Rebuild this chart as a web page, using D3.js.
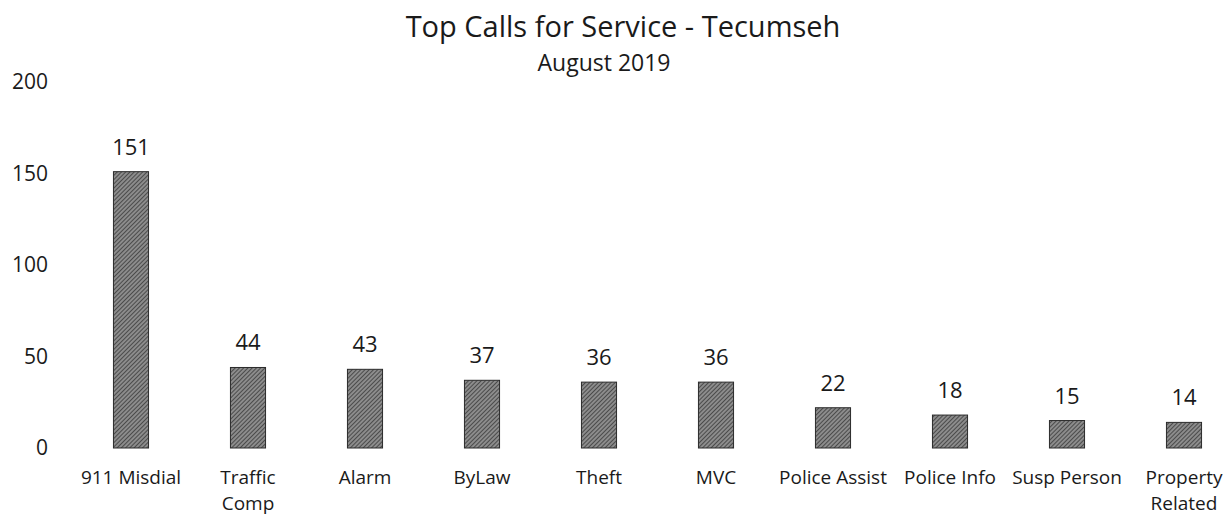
<!DOCTYPE html>
<html><head><meta charset="utf-8">
<script src="https://cdn.jsdelivr.net/npm/d3@7"></script>
<style>body{margin:0;background:#fff;} text{font-family:"Open Sans",Lato,sans-serif;fill:#1a1a1a;}</style>
</head><body><svg id="c" width="1230" height="516"></svg>
<script>
const categories = [["911 Misdial"],["Traffic","Comp"],["Alarm"],["ByLaw"],["Theft"],["MVC"],["Police Assist"],["Police Info"],["Susp Person"],["Property","Related"]];
const values = [151,44,43,37,36,36,22,18,15,14];
const yTicks = [0,50,100,150,200];
const title = "Top Calls for Service - Tecumseh";
const subtitle = "August 2019";

const svg = d3.select("#c");
const defs = svg.append("defs");
const pat = defs.append("pattern").attr("id","hatch").attr("patternUnits","userSpaceOnUse")
  .attr("width",3).attr("height",3).attr("patternTransform","rotate(45)");
pat.append("rect").attr("width",3).attr("height",3).attr("fill","#8c8c8c");
pat.append("line").attr("x1",0).attr("y1",0).attr("x2",0).attr("y2",3).attr("stroke","#2e2e2e").attr("stroke-width",1.4);

const x = d3.scaleBand().domain(categories.map((d,i)=>i)).range([72.5,1242.5]).paddingInner(0.7).paddingOuter(0.35);
const y = d3.scaleLinear().domain([0,200]).range([448,82]);

// y axis labels
const yAxis = d3.axisLeft(y).tickValues(yTicks).tickSize(0).tickPadding(0);
const ya = svg.append("g").attr("transform","translate(48,0)").call(yAxis);
ya.select(".domain").remove();
ya.selectAll("text").style("font-size","21px").style("font-family","'Open Sans',Lato,sans-serif").attr("fill","#1a1a1a");

// bars
svg.selectAll("rect.bar").data(values).enter().append("rect").attr("class","bar")
  .attr("x",(d,i)=>x(i)).attr("width",x.bandwidth())
  .attr("y",d=>y(d)).attr("height",d=>y(0)-y(d))
  .attr("fill","url(#hatch)").attr("stroke","#2a2a2a").attr("stroke-width",1);

// value labels
svg.selectAll("text.val").data(values).enter().append("text").attr("class","val")
  .attr("x",(d,i)=>x(i)+x.bandwidth()/2).attr("y",d=>y(d)-17)
  .attr("text-anchor","middle").style("font-size","22px").text(d=>d);

// category labels
const xa = svg.append("g");
categories.forEach((lines,i)=>{
  const t = xa.append("text").attr("x",x(i)+x.bandwidth()/2).attr("y",484)
    .attr("text-anchor","middle").style("font-size","19px");
  lines.forEach((l,j)=>t.append("tspan").attr("x",x(i)+x.bandwidth()/2).attr("dy",j?26:0).text(l));
});

svg.append("text").attr("x",623).attr("y",37).attr("text-anchor","middle").style("font-size","29px").text(title);
svg.append("text").attr("x",604).attr("y",71).attr("text-anchor","middle").style("font-size","23px").text(subtitle);
</script></body></html>
